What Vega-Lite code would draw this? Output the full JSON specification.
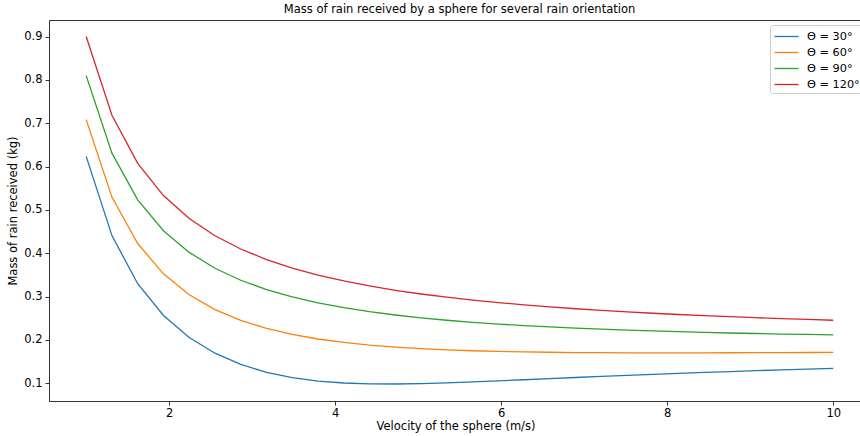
{
  "$schema": "https://vega.github.io/schema/vega-lite/v6.json",
  "autosize": {"type": "none"},
  "padding": {"left": 49, "top": 20, "right": 0, "bottom": 35},
  "width": 813,
  "height": 381,
  "background": "white",
  "title": {
    "text": "Mass of rain received by a sphere for several rain orientation",
    "font": "DejaVu Sans",
    "fontSize": 11.5,
    "fontWeight": "normal",
    "color": "black",
    "anchor": "middle",
    "dx": 4,
    "offset": 5
  },
  "config": {
    "view": {"stroke": "#333333", "strokeWidth": 1},
    "axis": {
      "labelFont": "DejaVu Sans",
      "titleFont": "DejaVu Sans",
      "labelFontSize": 11.5,
      "titleFontSize": 11.5,
      "titleFontWeight": "normal",
      "labelColor": "black",
      "titleColor": "black",
      "domainColor": "#333333",
      "tickColor": "#333333",
      "tickSize": 4,
      "grid": false
    }
  },
  "data": {
    "values": [
      {"velocity": 1.0, "theta": "Θ = 30°", "mass": 0.6236},
      {"velocity": 1.310345, "theta": "Θ = 30°", "mass": 0.4408},
      {"velocity": 1.62069, "theta": "Θ = 30°", "mass": 0.3298},
      {"velocity": 1.931034, "theta": "Θ = 30°", "mass": 0.2564},
      {"velocity": 2.241379, "theta": "Θ = 30°", "mass": 0.2055},
      {"velocity": 2.551724, "theta": "Θ = 30°", "mass": 0.1693},
      {"velocity": 2.862069, "theta": "Θ = 30°", "mass": 0.1434},
      {"velocity": 3.172414, "theta": "Θ = 30°", "mass": 0.1252},
      {"velocity": 3.482759, "theta": "Θ = 30°", "mass": 0.1128},
      {"velocity": 3.793103, "theta": "Θ = 30°", "mass": 0.105},
      {"velocity": 4.103448, "theta": "Θ = 30°", "mass": 0.1005},
      {"velocity": 4.413793, "theta": "Θ = 30°", "mass": 0.0986},
      {"velocity": 4.724138, "theta": "Θ = 30°", "mass": 0.0983},
      {"velocity": 5.034483, "theta": "Θ = 30°", "mass": 0.0993},
      {"velocity": 5.344828, "theta": "Θ = 30°", "mass": 0.1009},
      {"velocity": 5.655172, "theta": "Θ = 30°", "mass": 0.1031},
      {"velocity": 5.965517, "theta": "Θ = 30°", "mass": 0.1055},
      {"velocity": 6.275862, "theta": "Θ = 30°", "mass": 0.108},
      {"velocity": 6.586207, "theta": "Θ = 30°", "mass": 0.1106},
      {"velocity": 6.896552, "theta": "Θ = 30°", "mass": 0.1132},
      {"velocity": 7.206897, "theta": "Θ = 30°", "mass": 0.1157},
      {"velocity": 7.517241, "theta": "Θ = 30°", "mass": 0.1181},
      {"velocity": 7.827586, "theta": "Θ = 30°", "mass": 0.1205},
      {"velocity": 8.137931, "theta": "Θ = 30°", "mass": 0.1228},
      {"velocity": 8.448276, "theta": "Θ = 30°", "mass": 0.1249},
      {"velocity": 8.758621, "theta": "Θ = 30°", "mass": 0.127},
      {"velocity": 9.068966, "theta": "Θ = 30°", "mass": 0.1289},
      {"velocity": 9.37931, "theta": "Θ = 30°", "mass": 0.1308},
      {"velocity": 9.689655, "theta": "Θ = 30°", "mass": 0.1326},
      {"velocity": 10.0, "theta": "Θ = 30°", "mass": 0.1343},
      {"velocity": 1.0, "theta": "Θ = 60°", "mass": 0.7085},
      {"velocity": 1.310345, "theta": "Θ = 60°", "mass": 0.5297},
      {"velocity": 1.62069, "theta": "Θ = 60°", "mass": 0.4225},
      {"velocity": 1.931034, "theta": "Θ = 60°", "mass": 0.3526},
      {"velocity": 2.241379, "theta": "Θ = 60°", "mass": 0.3044},
      {"velocity": 2.551724, "theta": "Θ = 60°", "mass": 0.2701},
      {"velocity": 2.862069, "theta": "Θ = 60°", "mass": 0.2451},
      {"velocity": 3.172414, "theta": "Θ = 60°", "mass": 0.2265},
      {"velocity": 3.482759, "theta": "Θ = 60°", "mass": 0.2126},
      {"velocity": 3.793103, "theta": "Θ = 60°", "mass": 0.2021},
      {"velocity": 4.103448, "theta": "Θ = 60°", "mass": 0.1941},
      {"velocity": 4.413793, "theta": "Θ = 60°", "mass": 0.188},
      {"velocity": 4.724138, "theta": "Θ = 60°", "mass": 0.1833},
      {"velocity": 5.034483, "theta": "Θ = 60°", "mass": 0.1797},
      {"velocity": 5.344828, "theta": "Θ = 60°", "mass": 0.177},
      {"velocity": 5.655172, "theta": "Θ = 60°", "mass": 0.175},
      {"velocity": 5.965517, "theta": "Θ = 60°", "mass": 0.1734},
      {"velocity": 6.275862, "theta": "Θ = 60°", "mass": 0.1723},
      {"velocity": 6.586207, "theta": "Θ = 60°", "mass": 0.1715},
      {"velocity": 6.896552, "theta": "Θ = 60°", "mass": 0.1709},
      {"velocity": 7.206897, "theta": "Θ = 60°", "mass": 0.1705},
      {"velocity": 7.517241, "theta": "Θ = 60°", "mass": 0.1703},
      {"velocity": 7.827586, "theta": "Θ = 60°", "mass": 0.1702},
      {"velocity": 8.137931, "theta": "Θ = 60°", "mass": 0.1702},
      {"velocity": 8.448276, "theta": "Θ = 60°", "mass": 0.1703},
      {"velocity": 8.758621, "theta": "Θ = 60°", "mass": 0.1704},
      {"velocity": 9.068966, "theta": "Θ = 60°", "mass": 0.1706},
      {"velocity": 9.37931, "theta": "Θ = 60°", "mass": 0.1708},
      {"velocity": 9.689655, "theta": "Θ = 60°", "mass": 0.171},
      {"velocity": 10.0, "theta": "Θ = 60°", "mass": 0.1713},
      {"velocity": 1.0, "theta": "Θ = 90°", "mass": 0.8102},
      {"velocity": 1.310345, "theta": "Θ = 90°", "mass": 0.6312},
      {"velocity": 1.62069, "theta": "Θ = 90°", "mass": 0.5233},
      {"velocity": 1.931034, "theta": "Θ = 90°", "mass": 0.452},
      {"velocity": 2.241379, "theta": "Θ = 90°", "mass": 0.402},
      {"velocity": 2.551724, "theta": "Θ = 90°", "mass": 0.3654},
      {"velocity": 2.862069, "theta": "Θ = 90°", "mass": 0.3377},
      {"velocity": 3.172414, "theta": "Θ = 90°", "mass": 0.3162},
      {"velocity": 3.482759, "theta": "Θ = 90°", "mass": 0.2992},
      {"velocity": 3.793103, "theta": "Θ = 90°", "mass": 0.2856},
      {"velocity": 4.103448, "theta": "Θ = 90°", "mass": 0.2744},
      {"velocity": 4.413793, "theta": "Θ = 90°", "mass": 0.2652},
      {"velocity": 4.724138, "theta": "Θ = 90°", "mass": 0.2575},
      {"velocity": 5.034483, "theta": "Θ = 90°", "mass": 0.251},
      {"velocity": 5.344828, "theta": "Θ = 90°", "mass": 0.2454},
      {"velocity": 5.655172, "theta": "Θ = 90°", "mass": 0.2407},
      {"velocity": 5.965517, "theta": "Θ = 90°", "mass": 0.2366},
      {"velocity": 6.275862, "theta": "Θ = 90°", "mass": 0.233},
      {"velocity": 6.586207, "theta": "Θ = 90°", "mass": 0.2299},
      {"velocity": 6.896552, "theta": "Θ = 90°", "mass": 0.2272},
      {"velocity": 7.206897, "theta": "Θ = 90°", "mass": 0.2247},
      {"velocity": 7.517241, "theta": "Θ = 90°", "mass": 0.2226},
      {"velocity": 7.827586, "theta": "Θ = 90°", "mass": 0.2207},
      {"velocity": 8.137931, "theta": "Θ = 90°", "mass": 0.219},
      {"velocity": 8.448276, "theta": "Θ = 90°", "mass": 0.2174},
      {"velocity": 8.758621, "theta": "Θ = 90°", "mass": 0.216},
      {"velocity": 9.068966, "theta": "Θ = 90°", "mass": 0.2148},
      {"velocity": 9.37931, "theta": "Θ = 90°", "mass": 0.2136},
      {"velocity": 9.689655, "theta": "Θ = 90°", "mass": 0.2126},
      {"velocity": 10.0, "theta": "Θ = 90°", "mass": 0.2116},
      {"velocity": 1.0, "theta": "Θ = 120°", "mass": 0.9005},
      {"velocity": 1.310345, "theta": "Θ = 120°", "mass": 0.7185},
      {"velocity": 1.62069, "theta": "Θ = 120°", "mass": 0.6076},
      {"velocity": 1.931034, "theta": "Θ = 120°", "mass": 0.5332},
      {"velocity": 2.241379, "theta": "Θ = 120°", "mass": 0.4801},
      {"velocity": 2.551724, "theta": "Θ = 120°", "mass": 0.4405},
      {"velocity": 2.862069, "theta": "Θ = 120°", "mass": 0.4099},
      {"velocity": 3.172414, "theta": "Θ = 120°", "mass": 0.3856},
      {"velocity": 3.482759, "theta": "Θ = 120°", "mass": 0.3659},
      {"velocity": 3.793103, "theta": "Θ = 120°", "mass": 0.3497},
      {"velocity": 4.103448, "theta": "Θ = 120°", "mass": 0.3361},
      {"velocity": 4.413793, "theta": "Θ = 120°", "mass": 0.3245},
      {"velocity": 4.724138, "theta": "Θ = 120°", "mass": 0.3146},
      {"velocity": 5.034483, "theta": "Θ = 120°", "mass": 0.306},
      {"velocity": 5.344828, "theta": "Θ = 120°", "mass": 0.2986},
      {"velocity": 5.655172, "theta": "Θ = 120°", "mass": 0.292},
      {"velocity": 5.965517, "theta": "Θ = 120°", "mass": 0.2861},
      {"velocity": 6.275862, "theta": "Θ = 120°", "mass": 0.2809},
      {"velocity": 6.586207, "theta": "Θ = 120°", "mass": 0.2762},
      {"velocity": 6.896552, "theta": "Θ = 120°", "mass": 0.272},
      {"velocity": 7.206897, "theta": "Θ = 120°", "mass": 0.2682},
      {"velocity": 7.517241, "theta": "Θ = 120°", "mass": 0.2647},
      {"velocity": 7.827586, "theta": "Θ = 120°", "mass": 0.2616},
      {"velocity": 8.137931, "theta": "Θ = 120°", "mass": 0.2587},
      {"velocity": 8.448276, "theta": "Θ = 120°", "mass": 0.256},
      {"velocity": 8.758621, "theta": "Θ = 120°", "mass": 0.2536},
      {"velocity": 9.068966, "theta": "Θ = 120°", "mass": 0.2513},
      {"velocity": 9.37931, "theta": "Θ = 120°", "mass": 0.2492},
      {"velocity": 9.689655, "theta": "Θ = 120°", "mass": 0.2473},
      {"velocity": 10.0, "theta": "Θ = 120°", "mass": 0.2454}
    ]
  },
  "mark": {"type": "line", "strokeWidth": 1.3, "clip": true},
  "encoding": {
    "x": {
      "field": "velocity",
      "type": "quantitative",
      "title": "Velocity of the sphere (m/s)",
      "scale": {"domain": [0.552, 10.347], "nice": false, "zero": false},
      "axis": {"values": [2, 4, 6, 8, 10], "labelPadding": 2, "titlePadding": 2}
    },
    "y": {
      "field": "mass",
      "type": "quantitative",
      "title": "Mass of rain received (kg)",
      "scale": {"domain": [0.059, 0.9385], "nice": false, "zero": false},
      "axis": {"values": [0.1, 0.2, 0.3, 0.4, 0.5, 0.6, 0.7, 0.8, 0.9], "format": ".1f", "labelPadding": 3, "titlePadding": 5}
    },
    "color": {
      "field": "theta",
      "type": "nominal",
      "sort": ["Θ = 30°", "Θ = 60°", "Θ = 90°", "Θ = 120°"],
      "scale": {
        "domain": ["Θ = 30°", "Θ = 60°", "Θ = 90°", "Θ = 120°"],
        "range": ["#1f77b4", "#ff7f0e", "#2ca02c", "#d62728"]
      },
      "legend": {
        "title": null,
        "orient": "none",
        "legendX": 721,
        "legendY": 5,
        "symbolType": "M-1.6,0H1.6",
        "symbolSize": 225,
        "symbolStrokeWidth": 1.3,
        "symbolOffset": 5,
        "labelFont": "DejaVu Sans",
        "labelFontSize": 11.3,
        "labelColor": "black",
        "labelOffset": 12,
        "padding": 3,
        "rowPadding": 2,
        "strokeColor": "#cccccc",
        "fillColor": "white",
        "cornerRadius": 3
      }
    }
  }
}
